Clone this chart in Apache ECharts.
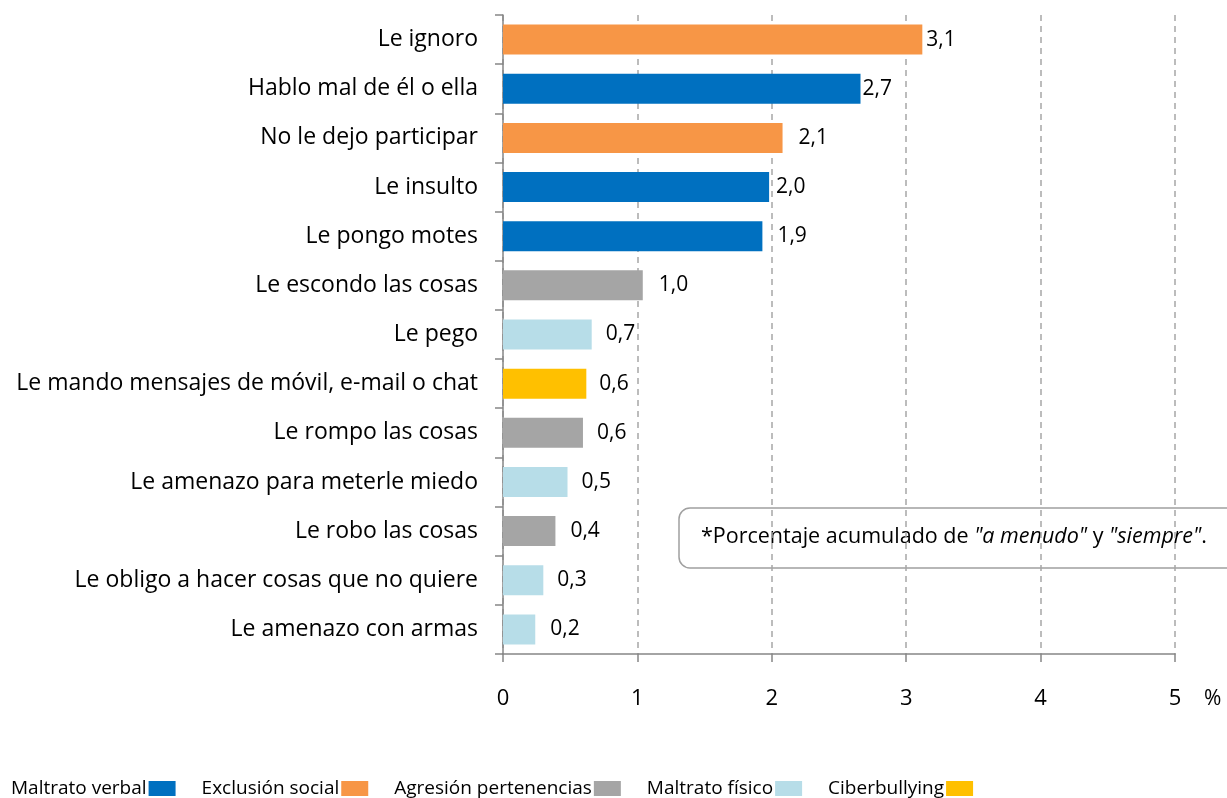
<!DOCTYPE html>
<html>
<head>
<meta charset="utf-8">
<script src="https://cdn.jsdelivr.net/npm/echarts@6/dist/echarts.min.js"></script>
<style>
  html, body { margin: 0; padding: 0; background: #fff; }
  #main { width: 1227px; height: 798px; }
</style>
</head>
<body>
<div id="main"></div>
<script>
  // categorias de arriba a abajo
  var categories = [
    'Le ignoro',
    'Hablo mal de él o ella',
    'No le dejo participar',
    'Le insulto',
    'Le pongo motes',
    'Le escondo las cosas',
    'Le pego',
    'Le mando mensajes de móvil, e-mail o chat',
    'Le rompo las cosas',
    'Le amenazo para meterle miedo',
    'Le robo las cosas',
    'Le obligo a hacer cosas que no quiere',
    'Le amenazo con armas'
  ]
  var values = [3.12, 2.66, 2.08, 1.98, 1.93, 1.04, 0.66, 0.62, 0.595, 0.48, 0.39, 0.30, 0.24]
  var groups = [
    'Exclusión social', 'Maltrato verbal', 'Exclusión social', 'Maltrato verbal', 'Maltrato verbal',
    'Agresión pertenencias', 'Maltrato físico', 'Ciberbullying', 'Agresión pertenencias',
    'Maltrato físico', 'Agresión pertenencias', 'Maltrato físico', 'Maltrato físico'
  ]
  var groupNames = ['Maltrato verbal', 'Exclusión social', 'Agresión pertenencias', 'Maltrato físico', 'Ciberbullying']
  var groupColors = ['#0070C0', '#F79646', '#A5A5A5', '#B7DDE8', '#FFC000']
  var xTicks = [0, 1, 2, 3, 4, 5]

  // separacion de la etiqueta respecto a la barra (como en Excel)
  var labelGap = [4, 2, 16, 7, 15, 16, 14, 13, 14, 14, 15, 14, 15]

  var chart = echarts.init(document.getElementById('main'))

  var series = groupNames.map(function (g, gi) {
    return {
      name: g,
      type: 'bar',
      stack: 'total',
      barWidth: 30,
      itemStyle: { color: groupColors[gi] },
      data: values.map(function (v, i) {
        if (groups[i] !== g) return '-'
        return {
          value: v,
          label: { distance: labelGap[i] }
        }
      }),
      label: {
        show: true,
        position: 'right',
        fontFamily: 'Open Sans',
        fontSize: 21,
        color: '#000',
        formatter: function (p) {
          return p.value.toFixed(1).replace('.', ',')
        }
      }
    }
  })

  chart.setOption({
    animation: false,
    textStyle: { fontFamily: 'Open Sans' },
    grid: { left: 503, right: 52, top: 15, bottom: 144 },
    legend: {
      data: groupNames,
      align: 'right',
      left: 6,
      bottom: -5,
      icon: 'rect',
      itemWidth: 27,
      itemHeight: 15,
      itemGap: 26,
      textStyle: { fontFamily: 'Open Sans', fontSize: 19, color: '#000', padding: [0, -3, 0, 0] }
    },
    xAxis: {
      type: 'value',
      min: 0,
      max: xTicks[xTicks.length - 1],
      interval: 1,
      axisLine: { show: true, lineStyle: { color: '#868686', width: 1.5 } },
      axisTick: { show: true, length: 8, lineStyle: { color: '#868686', width: 1.5 } },
      axisLabel: { fontSize: 22, color: '#000', margin: 34 },
      splitLine: { show: true, lineStyle: { color: '#A6A6A6', width: 1.5, type: [6, 5] } }
    },
    yAxis: {
      type: 'category',
      inverse: true,
      data: categories,
      axisLine: { lineStyle: { color: '#868686', width: 1.5 } },
      axisTick: { show: true, length: 8, lineStyle: { color: '#868686', width: 1.5 } },
      axisLabel: { fontSize: 23, color: '#000', margin: 25 },
      splitLine: { show: false }
    },
    graphic: [
      {
        type: 'text',
        left: 1204,
        top: 689,
        style: { text: '%', font: '21px "Open Sans"', fill: '#000' }
      },
      {
        type: 'group',
        z: 100,
        children: [
          {
            type: 'rect',
            shape: { x: 679, y: 508, width: 570, height: 60, r: 11 },
            style: { fill: '#fff', stroke: '#A0A0A0', lineWidth: 1.5 }
          },
          {
            type: 'text',
            x: 701,
            y: 537,
            style: {
              text: '*Porcentaje acumulado de {i|"a menudo"} y {i|"siempre"}.',
              font: '21.5px "Open Sans"',
              fill: '#000',
              verticalAlign: 'middle',
              rich: {
                i: { fontStyle: 'italic', fontSize: 21.5, fontFamily: 'Open Sans', fill: '#000' }
              }
            }
          }
        ]
      }
    ],
    series: series
  })
</script>
</body>
</html>
